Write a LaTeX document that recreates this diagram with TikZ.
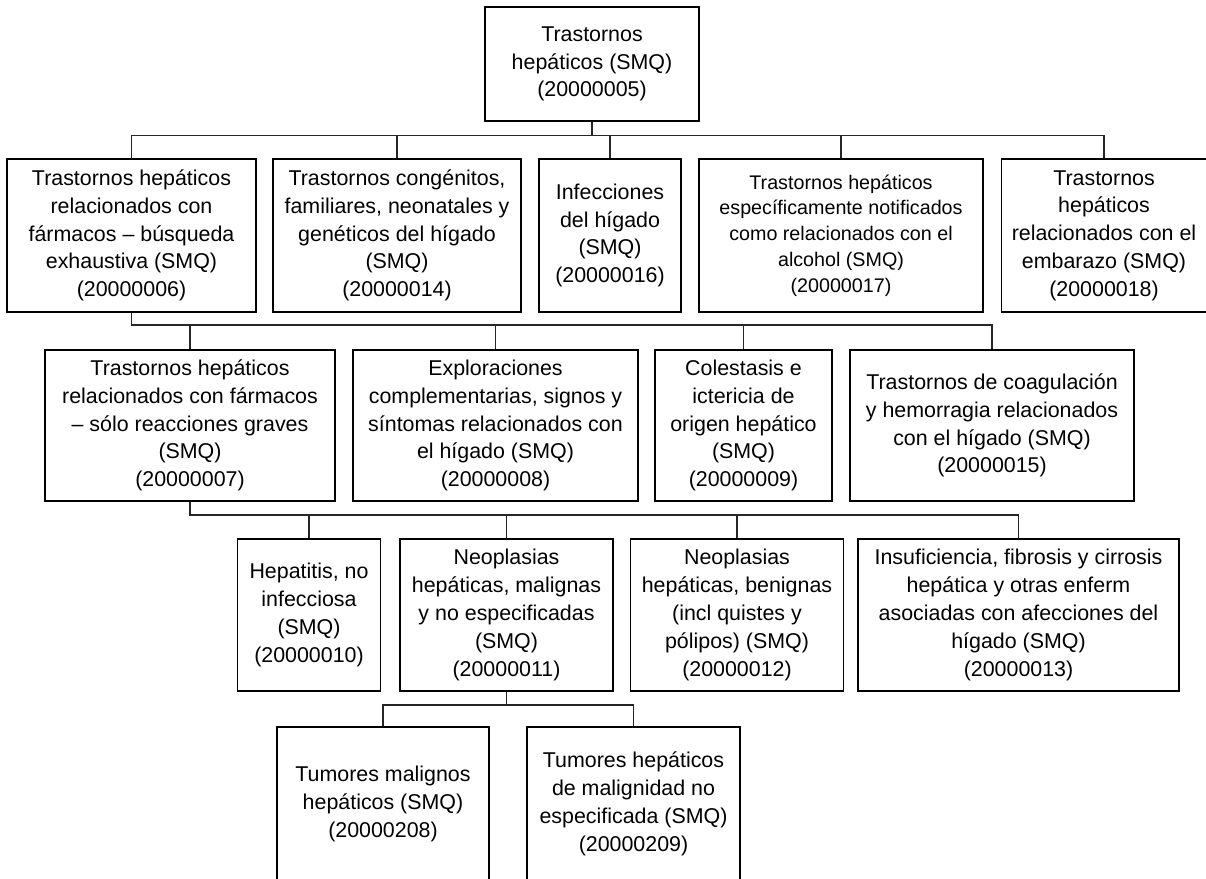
\documentclass[tikz,border=0pt]{standalone}
\usepackage{fontspec}
\setmainfont{Liberation Sans}
\begin{document}
\begin{tikzpicture}[x=1pt,y=-1pt,
  box/.style={draw=black, line width=1.1pt, inner sep=0pt, align=center,
    font=\fontsize{21.4}{27.8}\selectfont},
  smallbox/.style={box, font=\fontsize{19.7}{25.8}\selectfont},
  conn/.style={draw=black!85, line width=1.1pt}]
\useasboundingbox (0,0) rectangle (1206,878);
\clip (0,0) rectangle (1206,878);
% level 0
\node[box, minimum width=214, minimum height=114] (top) at (592,64) {Trastornos\\hepáticos (SMQ)\\(20000005)};
% level 1
\node[box, minimum width=249, minimum height=153] (A) at (131.5,235.5) {Trastornos hepáticos\\relacionados con\\fármacos – búsqueda\\exhaustiva (SMQ)\\(20000006)};
\node[box, minimum width=248, minimum height=153] (B) at (397,235.5) {Trastornos congénitos,\\familiares, neonatales y\\genéticos del hígado\\(SMQ)\\(20000014)};
\node[box, minimum width=142, minimum height=153] (C) at (610,235.5) {Infecciones\\del hígado\\(SMQ)\\(20000016)};
\node[smallbox, minimum width=284, minimum height=153] (D) at (841,235.5) {Trastornos hepáticos\\específicamente notificados\\como relacionados con el\\alcohol (SMQ)\\(20000017)};
\node[box, minimum width=205, minimum height=153] (E) at (1104,235.5) {Trastornos\\hepáticos\\relacionados con el\\embarazo (SMQ)\\(20000018)};
% level 2
\node[box, minimum width=290, minimum height=151] (F) at (190,425.5) {Trastornos hepáticos\\relacionados con fármacos\\– sólo reacciones graves\\(SMQ)\\(20000007)};
\node[box, minimum width=285, minimum height=151] (G) at (495.5,425.5) {Exploraciones\\complementarias, signos y\\síntomas relacionados con\\el hígado (SMQ)\\(20000008)};
\node[box, minimum width=177, minimum height=151] (H) at (743.5,425.5) {Colestasis e\\ictericia de\\origen hepático\\(SMQ)\\(20000009)};
\node[box, minimum width=284, minimum height=151] (I) at (992,425.5) {Trastornos de coagulación\\y hemorragia relacionados\\con el hígado (SMQ)\\(20000015)};
% level 3
\node[box, minimum width=143, minimum height=152] (J) at (309,615) {Hepatitis, no\\infecciosa\\(SMQ)\\(20000010)};
\node[box, minimum width=213, minimum height=152] (K) at (506.5,615) {Neoplasias\\hepáticas, malignas\\y no especificadas\\(SMQ)\\(20000011)};
\node[box, minimum width=213, minimum height=152] (L) at (737,615) {Neoplasias\\hepáticas, benignas\\(incl quistes y\\pólipos) (SMQ)\\(20000012)};
\node[box, minimum width=321, minimum height=152] (M) at (1018.5,615) {Insuficiencia, fibrosis y cirrosis\\hepática y otras enferm\\asociadas con afecciones del\\hígado (SMQ)\\(20000013)};
% level 4
\node[box, minimum width=212, minimum height=154] (N) at (383,804) {Tumores malignos\\hepáticos (SMQ)\\(20000208)};
\node[box, minimum width=213, minimum height=154] (O) at (633.5,804) {Tumores hepáticos\\de malignidad no\\especificada (SMQ)\\(20000209)};
% buses
\coordinate (bus1) at (0,135.5);
\coordinate (bus2) at (0,325);
\coordinate (bus3) at (0,515);
\coordinate (bus4) at (0,705);
% level 0 -> 1
\draw[conn] (top.south) -- (top.south |- bus1);
\draw[conn] (A.north) -- (A.north |- bus1) -- (E.north |- bus1) -- (E.north);
\draw[conn] (B.north) -- (B.north |- bus1);
\draw[conn] (C.north) -- (C.north |- bus1);
\draw[conn] (D.north) -- (D.north |- bus1);
% A -> level 2
\draw[conn] (A.south) -- (A.south |- bus2) -- (I.north |- bus2) -- (I.north);
\draw[conn] (F.north) -- (F.north |- bus2);
\draw[conn] (G.north) -- (G.north |- bus2);
\draw[conn] (H.north) -- (H.north |- bus2);
% F -> level 3
\draw[conn] (F.south) -- (F.south |- bus3) -- (M.north |- bus3) -- (M.north);
\draw[conn] (J.north) -- (J.north |- bus3);
\draw[conn] (K.north) -- (K.north |- bus3);
\draw[conn] (L.north) -- (L.north |- bus3);
% K -> level 4
\draw[conn] (K.south) -- (K.south |- bus4);
\draw[conn] (N.north) -- (N.north |- bus4) -- (O.north |- bus4) -- (O.north);
\end{tikzpicture}
\end{document}
